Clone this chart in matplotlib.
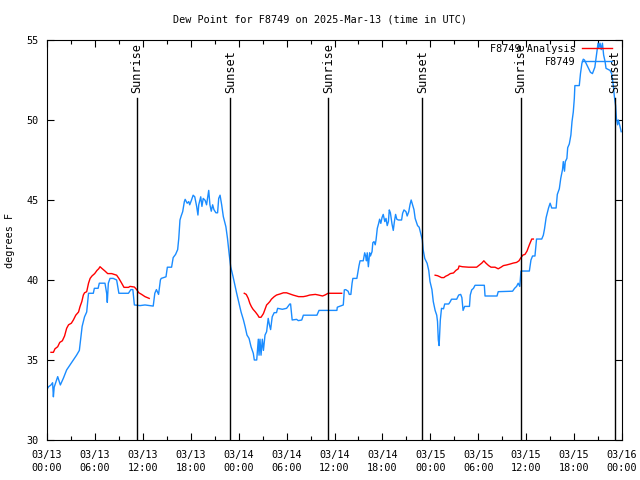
import numpy as np
import pandas as pd
import matplotlib
matplotlib.use("Agg")
import matplotlib.pyplot as plt
import matplotlib.dates as mdates

# hours since 2025-03-13 00:00 UTC
obs_hours = [
    0.0, 0.2, 0.5, 0.7, 0.8, 0.9, 1.34, 1.67, 2.05, 2.46, 2.88, 3.3, 3.7, 4.05, 4.2, 4.4, 4.7, 4.97,
    5.2, 5.8, 5.93, 6.4, 6.55, 7.26, 7.47, 7.55, 7.68, 7.89, 8.3, 8.72, 9.0, 10.2, 10.5, 10.75, 10.94,
    11.65, 12.27, 13.3, 13.5, 13.7, 13.97, 14.2, 14.3, 14.9, 15.07, 15.6, 15.8, 16.1, 16.36, 16.5,
    16.65, 16.8, 16.99, 17.2, 17.3, 17.55, 17.75, 17.87, 18.08, 18.3, 18.5, 18.74, 18.9, 19.0, 19.25,
    19.4, 19.56, 19.8, 19.98, 20.25, 20.4, 20.57, 20.74, 20.9, 21.15, 21.36, 21.5, 21.67, 21.87,
    22.08, 22.4, 22.6, 22.8, 23.0, 23.3, 23.75, 24.04, 24.3, 24.6, 24.8, 25.04, 25.3, 25.55, 25.83,
    25.96, 26.26, 26.4, 26.46, 26.55, 26.67, 26.8, 26.96, 27.1, 27.3, 27.5, 27.7, 27.85, 28.0, 28.2,
    28.45, 28.74, 28.88, 29.47, 30.0, 30.4, 30.5, 30.7, 31.25, 31.47, 31.9, 32.1, 33.8, 34.06, 36.3,
    36.35, 36.9, 37.1, 37.23, 37.4, 37.7, 37.85, 38.05, 38.2, 38.3, 38.8, 38.9, 39.07, 39.2, 39.6,
    39.78, 39.9, 40.0, 40.1, 40.24, 40.4, 40.5, 40.7, 40.8, 40.95, 41.1, 41.2, 41.36, 41.53, 41.65,
    41.8, 41.95, 42.1, 42.3, 42.45, 42.6, 42.75, 42.86, 43.0, 43.2, 43.36, 43.5, 43.65, 43.8, 44.0,
    44.4, 44.53, 44.7, 44.95, 45.1, 45.3, 45.45, 45.6, 45.75, 45.95, 46.1, 46.4, 46.6, 46.8, 47.0,
    47.1, 47.3, 47.6, 47.8, 47.96, 48.2, 48.37, 48.6, 48.8, 48.9, 49.0, 49.1, 49.25, 49.4, 49.65,
    49.8, 50.3, 50.5, 50.65, 51.3, 51.55, 51.8, 51.95, 52.1, 52.3, 52.9, 53.0, 53.18, 53.4, 53.6,
    54.76, 54.85, 56.35, 56.5, 58.3, 58.55, 58.8, 59.0, 59.2, 59.35, 60.4, 60.6, 60.8, 61.1, 61.3,
    61.95, 62.15, 62.3, 62.5, 62.8, 63.0, 63.2, 63.75, 63.9, 64.15, 64.33, 64.55, 64.65, 64.8, 64.9,
    65.1, 65.2, 65.4, 65.6, 65.74, 65.9, 66.03, 66.1, 66.65, 66.8, 66.98, 67.15, 67.3, 67.8, 68.05,
    68.3, 68.6, 68.8, 69.0, 69.1, 69.25, 69.4, 69.55, 69.7, 69.88, 70.0, 70.5, 70.7, 70.9, 71.05,
    71.2, 71.3, 71.45, 71.55, 71.7, 71.9,
]
obs_dewpt = [
    33.17, 33.33, 33.44, 33.58, 32.7, 33.3, 33.96, 33.44, 33.86, 34.38, 34.69, 35.0, 35.3, 35.6, 36.25,
    37.1, 37.7, 38.0, 39.17, 39.17, 39.48, 39.48, 39.8, 39.8, 39.17, 38.6, 39.8, 40.1, 40.1, 40.0,
    39.17, 39.17, 39.4, 39.4, 38.44, 38.4, 38.44, 38.37, 39.17, 39.4, 39.1, 40.0, 40.1, 40.2, 40.8,
    40.8, 41.4, 41.6, 41.9, 42.6, 43.75, 44.0, 44.27, 44.9, 45.04, 44.8, 44.9, 44.7, 44.98, 45.3,
    45.2, 44.6, 44.06, 44.7, 45.2, 44.6, 45.1, 44.98, 44.7, 45.6, 44.7, 44.3, 44.7, 44.4, 44.2, 44.2,
    45.1, 45.3, 44.7, 43.96, 43.33, 42.6, 41.67, 40.83, 40.2, 39.17, 38.54, 38.0, 37.5, 37.1, 36.56,
    36.35, 35.83, 35.42, 35.0, 35.0, 35.9, 36.3, 35.3, 36.3, 35.3, 36.3, 35.6, 36.56, 36.77, 37.6,
    37.2, 36.9, 37.7, 37.96, 37.96, 38.23, 38.17, 38.23, 38.5, 38.5, 37.5, 37.54, 37.46, 37.5, 37.8,
    37.8, 38.1, 38.1, 38.3, 38.4, 38.44, 39.38, 39.4, 39.3, 39.1, 39.1, 39.8, 40.1, 40.1, 40.4, 40.9,
    41.2, 41.2, 41.7, 41.5, 41.2, 41.7, 40.83, 41.7, 41.5, 41.77, 42.33, 42.4, 42.2, 42.5, 43.23,
    43.54, 43.8, 43.54, 43.9, 44.1, 43.65, 43.85, 43.4, 43.65, 44.38, 44.2, 43.5, 43.1, 43.65, 44.1,
    43.8, 43.75, 43.75, 44.17, 44.38, 44.27, 44.0, 44.27, 44.7, 45.0, 44.75, 44.4, 43.85, 43.4, 43.3,
    42.9, 42.5, 41.9, 41.35, 41.04, 40.6, 39.9, 39.4, 38.65, 38.1, 37.8, 37.4, 36.25, 35.9, 37.5,
    38.23, 38.2, 38.5, 38.5, 38.65, 38.8, 38.8, 39.06, 39.1, 38.9, 38.1, 38.35, 38.35, 39.06, 39.38,
    39.48, 39.67, 39.67, 39.0, 39.0, 39.27, 39.3, 39.48, 39.6, 39.8, 39.6, 40.56, 40.56, 41.25, 41.5,
    41.5, 42.56, 42.56, 42.8, 43.2, 43.9, 44.5, 44.8, 44.5, 44.5, 45.35, 45.7, 46.35, 46.9, 47.4,
    46.8, 47.4, 47.6, 48.27, 48.5, 49.06, 49.9, 50.5, 51.35, 52.15, 52.15, 52.9, 53.54, 53.8, 53.75,
    53.23, 52.98, 52.9, 53.3, 54.06, 54.8, 54.5, 54.8, 54.4, 54.8, 54.06, 53.65, 53.23, 53.1, 52.9,
    52.2, 51.46, 50.9, 50.1, 49.7, 50.0, 49.7, 49.27,
]

# analysis series, NaN marks a gap
ana_hours = [
    0.5, 0.8, 1.0, 1.34, 1.6, 1.92, 2.2, 2.46, 2.7, 3.05, 3.3, 3.6, 3.95, 4.13, 4.36, 4.55, 4.7, 4.97,
    5.2, 5.4, 5.63, 5.97, 6.26, 6.47, 6.64, 6.93, 7.26, 7.6, 8.1, 8.72, 9.0, 9.35, 9.64, 10.2, 10.4,
    10.94, 11.23, 11.5, 11.85, 12.27, 12.8,
    np.nan,
    24.7, 24.95, 25.2, 25.4, 25.6, 25.8, 26.1, 26.4, 26.55, 26.8, 27.1, 27.3, 27.5, 27.7, 27.9, 28.1,
    28.45, 28.74, 29.2, 29.6, 30.0, 30.4, 30.8, 31.5, 32.1, 32.5, 32.9, 33.6, 34.0, 34.5, 34.8, 35.2,
    36.05, 36.9,
    np.nan,
    48.6, 48.9, 49.2, 49.4, 49.7, 49.9, 50.2, 50.5, 50.9, 51.2, 51.5, 51.6, 52.0, 52.8, 53.8, 54.05,
    54.45, 54.7, 54.95, 55.3, 55.6, 56.1, 56.5, 56.85, 57.15, 57.55, 58.0, 58.4, 58.8, 59.1, 59.35,
    59.6, 59.85, 60.1, 60.4, 60.7, 60.9,
]
ana_dewpt = [
    35.48, 35.48, 35.7, 35.83, 36.1, 36.2, 36.5, 36.98, 37.2, 37.3, 37.5, 37.8, 38.0, 38.33, 38.65,
    39.06, 39.2, 39.27, 39.8, 40.1, 40.25, 40.4, 40.6, 40.7, 40.83, 40.7, 40.56, 40.4, 40.4, 40.3,
    40.1, 39.8, 39.54, 39.54, 39.6, 39.56, 39.4, 39.2, 39.1, 38.96, 38.85,
    np.nan,
    39.17, 39.1, 38.85, 38.54, 38.33, 38.17, 38.0, 37.8, 37.67, 37.67, 37.9, 38.17, 38.44, 38.54,
    38.65, 38.8, 38.96, 39.06, 39.13, 39.2, 39.2, 39.13, 39.06, 38.96, 38.96, 39.0, 39.06, 39.1,
    39.06, 39.0, 39.06, 39.17, 39.17, 39.17,
    np.nan,
    40.3, 40.27, 40.2, 40.15, 40.15, 40.23, 40.3, 40.4, 40.44, 40.6, 40.7, 40.875, 40.83, 40.8, 40.8,
    40.9, 41.06, 41.2, 41.06, 40.9, 40.8, 40.8, 40.7, 40.8, 40.9, 40.94, 41.0, 41.06, 41.1, 41.2,
    41.4, 41.56, 41.6, 41.8, 42.2, 42.56, 42.56,
]

sun_times = ["2025-03-13 11:18", "2025-03-13 22:58", "2025-03-14 11:14",
             "2025-03-14 23:00", "2025-03-15 11:18", "2025-03-15 23:06"]
sun_labels = ["Sunrise", "Sunset", "Sunrise", "Sunset", "Sunrise", "Sunset"]

start = pd.Timestamp("2025-03-13 00:00")
obs_t = start + pd.to_timedelta(obs_hours, unit="h")
ana_t = start + pd.to_timedelta(np.nan_to_num(ana_hours, nan=0.0), unit="h")
ana_v = np.array(ana_dewpt, dtype=float)

plt.rcParams["font.family"] = "DejaVu Sans Mono"
plt.rcParams["font.size"] = 7.3

fig = plt.figure(figsize=(6.4, 4.8), dpi=100)
ax = fig.add_axes([47 / 640, 40 / 480, 575 / 640, 400 / 480])

ax.plot(ana_t, ana_v, color="#ff0000", lw=1.0, label="F8749 Analysis")
ax.plot(obs_t, obs_dewpt, color="#1a8cff", lw=1.0, label="F8749")

for t, lab in zip(sun_times, sun_labels):
    ts = pd.Timestamp(t)
    ax.plot([ts, ts], [30, 51.4], color="black", lw=1.0)
    ax.text(ts, 51.7, lab, rotation=90, ha="center", va="bottom", fontsize=8.6)

ax.set_xlim(start, start + pd.Timedelta(hours=72))
ax.set_ylim(30, 55)
ax.set_yticks([30, 35, 40, 45, 50, 55])
ax.xaxis.set_major_locator(mdates.HourLocator(byhour=[0, 6, 12, 18]))
ax.xaxis.set_minor_locator(mdates.HourLocator(byhour=[3, 9, 15, 21]))
ax.xaxis.set_major_formatter(mdates.DateFormatter("%m/%d\n%H:%M"))
ax.tick_params(which="both", direction="in", top=True, right=True, width=0.8)
ax.tick_params(which="major", length=5)
ax.tick_params(which="minor", length=3)
ax.tick_params(axis="y", pad=6)
ax.tick_params(axis="x", pad=7)
for lbl in ax.get_xticklabels():
    lbl.set_linespacing(1.35)
for s in ax.spines.values():
    s.set_linewidth(0.8)

ax.legend(loc="upper right", bbox_to_anchor=(0.983, 0.99), frameon=False, markerfirst=False,
          handlelength=3.0, handletextpad=0.6, labelspacing=0.3, borderaxespad=0.0,
          borderpad=0.0)

fig.text(0.5, 1 - 20 / 480, "Dew Point for F8749 on 2025-Mar-13 (time in UTC)",
         ha="center", va="center")
fig.text(10 / 640, 0.5, "degrees F", rotation=90, ha="center", va="center")

fig.savefig("out.png", dpi=100)
